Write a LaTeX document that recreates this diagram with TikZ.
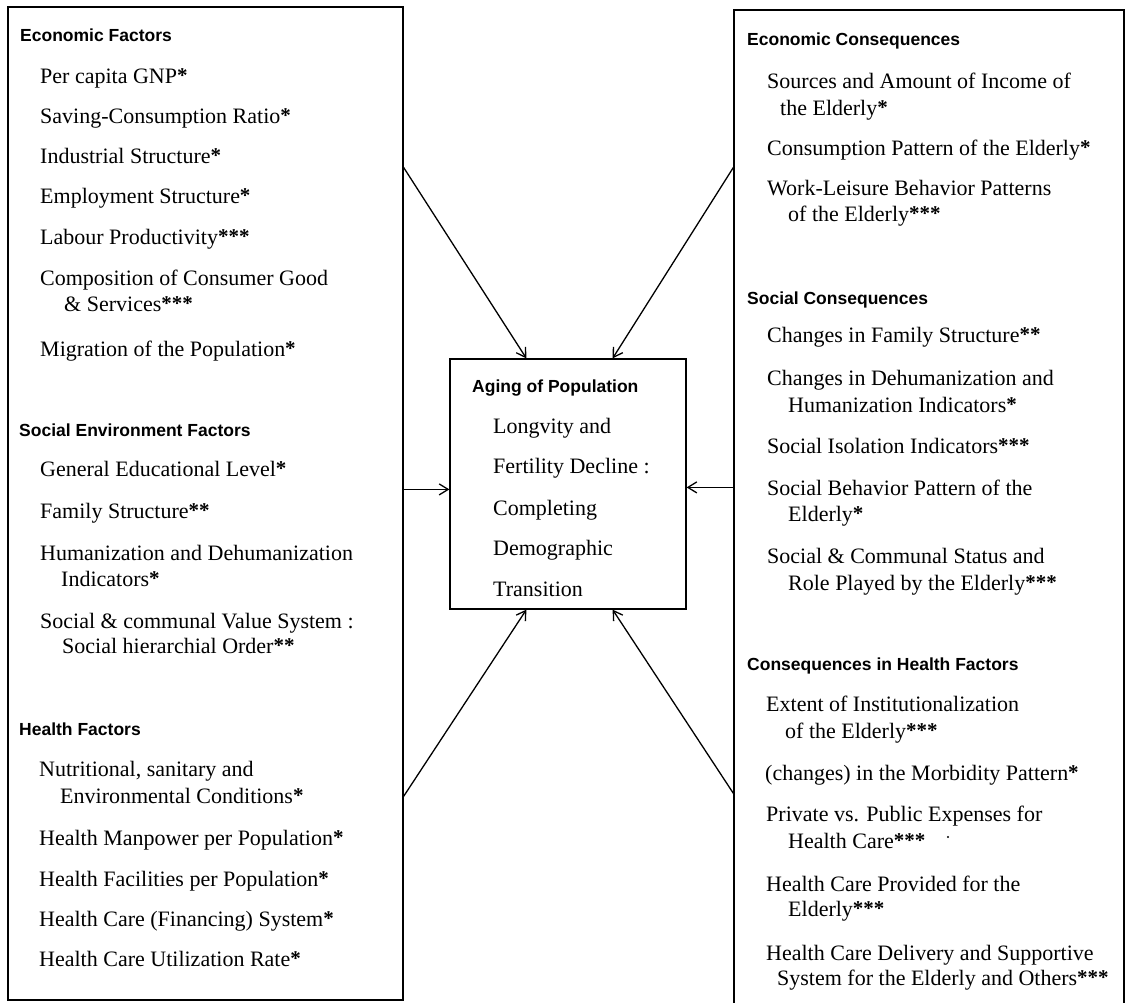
\documentclass[tikz,border=0pt]{standalone}
\usepackage{fontspec}
\setmainfont{Liberation Serif}
\newfontfamily\headfont{Liberation Sans}
\usetikzlibrary{arrows.meta,calc}

% raised bold asterisks marking each indicator
\newcommand\starmk[1]{\raisebox{1pt}{\bfseries\fontsize{21}{21}\selectfont#1}}

\tikzset{
  box/.style={draw, line width=1.2pt, inner sep=0pt, rectangle},
  head/.style={anchor=base west, inner sep=0pt,
    font=\headfont\bfseries\fontsize{17.5}{20}\selectfont},
  item/.style={anchor=base west, inner sep=0pt,
    font=\fontsize{22}{26}\selectfont},
  link/.style={line width=1.3pt, -{Straight Barb[length=9pt,width=11pt,line width=1.3pt]}}
}

\begin{document}
\begin{tikzpicture}[x=1pt,y=-1pt]
\useasboundingbox (0,0) rectangle (1130,1002);
\clip (0,0) rectangle (1130,1002);

% the three frames
\node[box, minimum width=395, minimum height=993] (L) at (205.5,503.5) {};
\node[box, minimum width=390, minimum height=1000] (R) at (929,510) {};
\node[box, minimum width=236, minimum height=250] (C) at (568,484) {};

% causes
\node[head] (lh1) at (20,41) {Economic Factors};
\node[item] (l1) at (40,83) {Per capita GNP\starmk{*}};
\node[item] (l2) at (40,123) {Saving-Consumption Ratio\starmk{*}};
\node[item] (l3) at (40,163) {Industrial Structure\starmk{*}};
\node[item] (l4) at (40,203) {Employment Structure\starmk{*}};
\node[item] (l5) at (40,244) {Labour Productivity\starmk{***}};
\node[item] (l6) at (40,285) {Composition of Consumer Good};
\node[item] (l6b) at (64,311) {\& Services\starmk{***}};
\node[item] (l7) at (40,356) {Migration of the Population\starmk{*}};

\node[head] (lh2) at (19,436) {Social Environment Factors};
\node[item] (l8) at (40,476) {General Educational Level\starmk{*}};
\node[item] (l9) at (40,518) {Family Structure\starmk{**}};
\node[item] (l10) at (40,560) {Humanization and Dehumanization};
\node[item] (l10b) at (61,586) {Indicators\starmk{*}};
\node[item] (l11) at (40,628) {Social \& communal Value System :};
\node[item] (l11b) at (62,653) {Social hierarchial Order\starmk{**}};

\node[head] (lh3) at (19,735) {Health Factors};
\node[item] (l12) at (39,776) {Nutritional, sanitary and};
\node[item] (l12b) at (60,803) {Environmental Conditions\starmk{*}};
\node[item] (l13) at (39,845) {Health Manpower per Population\starmk{*}};
\node[item] (l14) at (39,886) {Health Facilities per Population\starmk{*}};
\node[item] (l15) at (39,926) {Health Care (Financing) System\starmk{*}};
\node[item] (l16) at (39,966) {Health Care Utilization Rate\starmk{*}};

% consequences
\node[head] (rh1) at (747,45) {Economic Consequences};
\node[item] (r1) at (767,88) {Sources and Amount of Income of};
\node[item] (r1b) at (780,115) {the Elderly\starmk{*}};
\node[item] (r2) at (767,155) {Consumption Pattern of the Elderly\starmk{*}};
\node[item] (r3) at (767,195) {Work-Leisure Behavior Patterns};
\node[item] (r3b) at (788,221) {of the Elderly\starmk{***}};

\node[head] (rh2) at (747,304) {Social Consequences};
\node[item] (r4) at (767,342) {Changes in Family Structure\starmk{**}};
\node[item] (r5) at (767,385) {Changes in Dehumanization and};
\node[item] (r5b) at (788,412) {Humanization Indicators\starmk{*}};
\node[item] (r6) at (767,453) {Social Isolation Indicators\starmk{***}};
\node[item] (r7) at (767,495) {Social Behavior Pattern of the};
\node[item] (r7b) at (788,521) {Elderly\starmk{*}};
\node[item] (r8) at (767,563) {Social \& Communal Status and};
\node[item] (r8b) at (788,590) {Role Played by the Elderly\starmk{***}};

\node[head] (rh3) at (747,670) {Consequences in Health Factors};
\node[item] (r9) at (766,711) {Extent of Institutionalization};
\node[item] (r9b) at (785,738) {of the Elderly\starmk{***}};
\node[item] (r10) at (765,780) {(changes) in the Morbidity Pattern\starmk{*}};
\node[item] (r11) at (766,821) {Private vs. Public Expenses for};
\node[item] (r11b) at (788,848) {Health Care\starmk{***}};
\node[item] (r12) at (766,891) {Health Care Provided for the};
\node[item] (r12b) at (788,916) {Elderly\starmk{***}};
\node[item] (r13) at (766,960) {Health Care Delivery and Supportive};
\node[item] (r13b) at (777,985) {System for the Elderly and Others\starmk{***}};
\fill (948,837) circle (1.1);

% central block
\node[head] (ch) at (472,392) {Aging of Population};
\node[item] (c1) at (493,433) {Longvity and};
\node[item] (c2) at (493,473) {Fertility Decline :};
\node[item] (c3) at (493,515) {Completing};
\node[item] (c4) at (493,555) {Demographic};
\node[item] (c5) at (493,596) {Transition};

% arrow start points on the outer frames
\coordinate (Ltop) at ($(L.north east)+(0,161)$);
\coordinate (Lmid) at ($(L.north east)+(0,483)$);
\coordinate (Lbot) at ($(L.north east)+(0,790)$);
\coordinate (Rtop) at ($(R.north west)+(0,158)$);
\coordinate (Rmid) at ($(R.north west)+(0,478)$);
\coordinate (Rbot) at ($(R.north west)+(0,784)$);

\draw[link] (Ltop) -- ($(C.north west)+(77,0)$);
\draw[link] (Rtop) -- ($(C.north east)+(-74,0)$);
\draw[link] (Lmid) -- (Lmid -| C.west);
\draw[link] (Rmid) -- (Rmid -| C.east);
\draw[link] (Lbot) -- ($(C.south west)+(77,0)$);
\draw[link] (Rbot) -- ($(C.south east)+(-74,0)$);
\end{tikzpicture}
\end{document}
